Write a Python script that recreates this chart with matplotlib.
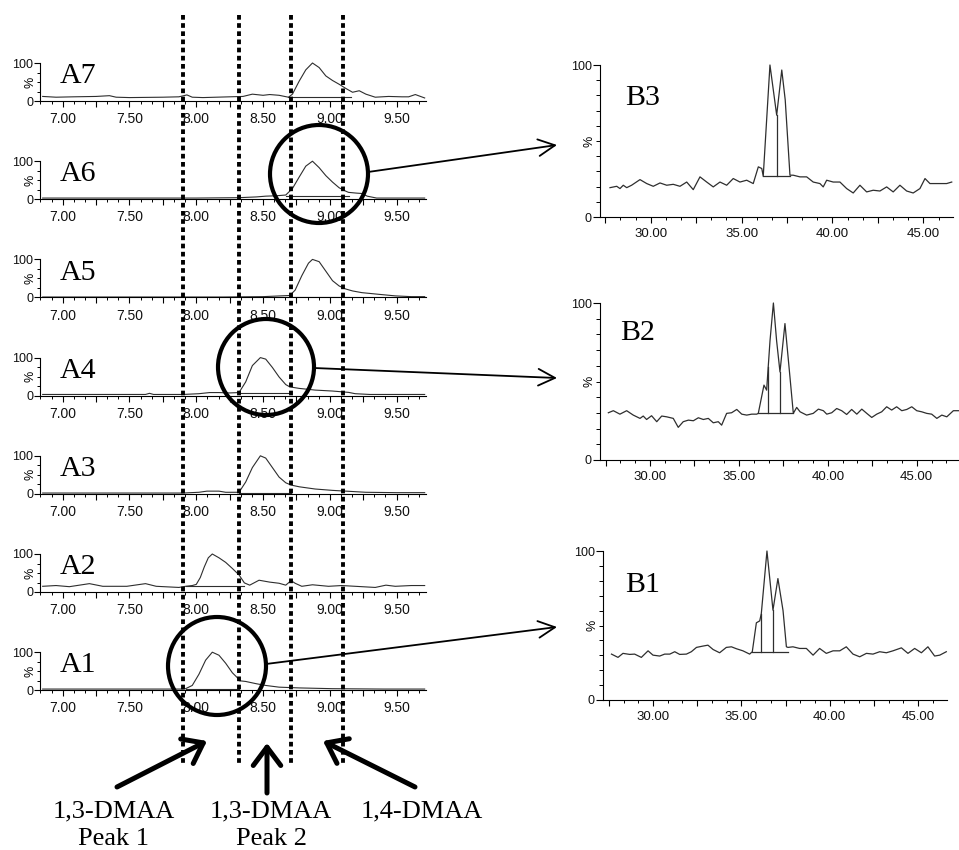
import numpy as np
import matplotlib
matplotlib.use('Agg')
import matplotlib.pyplot as plt
from matplotlib.ticker import MultipleLocator, FuncFormatter
from matplotlib.patches import Circle
from matplotlib.transforms import blended_transform_factory

plt.close('all')

# ---------------- data: retention time [min] / intensity [%] ----------------
a7_rt = [6.85, 6.95, 7.08, 7.25, 7.35, 7.40, 7.50, 7.75, 7.87, 7.93, 7.97, 8.05, 8.25, 8.35, 8.42,
         8.50, 8.55, 8.62, 8.69, 8.72, 8.77, 8.82, 8.87, 8.92, 8.97, 9.02, 9.07, 9.12, 9.17, 9.22,
         9.27, 9.34, 9.44, 9.54, 9.59, 9.64, 9.71]
a7_pct = [12, 10, 11, 12, 14, 10, 9, 10, 11, 16, 10, 9, 11, 12, 18,
          15, 17, 15, 10, 18, 52, 82, 100, 88, 66, 54, 44, 33, 23, 27,
          18, 10, 12, 11, 11, 17, 8]

a6_rt = [6.85, 7.20, 7.60, 8.00, 8.32, 8.45, 8.52, 8.60, 8.67, 8.72, 8.77, 8.82, 8.87, 8.92,
         8.97, 9.02, 9.07, 9.12, 9.14, 9.20, 9.24, 9.28, 9.35, 9.71]
a6_pct = [3, 3, 3, 3, 4, 6, 8, 9, 11, 28, 58, 87, 100, 83,
          62, 45, 30, 21, 18, 16, 15, 8, 3, 3]

a5_rt = [6.85, 7.50, 8.20, 8.50, 8.70, 8.74, 8.79, 8.84, 8.87, 8.92, 8.97, 9.02, 9.07, 9.12,
         9.17, 9.24, 9.37, 9.49, 9.61, 9.71]
a5_pct = [1, 1, 1, 2, 5, 19, 57, 90, 100, 94, 69, 44, 30, 22,
          17, 12.5, 8, 4, 2, 2]

a4_rt = [6.85, 7.40, 7.62, 7.65, 7.68, 7.90, 8.02, 8.10, 8.17, 8.25, 8.32, 8.37, 8.42, 8.48,
         8.52, 8.57, 8.62, 8.67, 8.70, 8.77, 8.89, 9.02, 9.14, 9.19, 9.30, 9.71]
a4_pct = [3, 3, 3, 6, 3, 3, 5, 8, 8, 7, 8, 36, 79, 100,
          96, 74, 49, 29, 23, 19, 14.5, 12, 8.5, 5, 3, 3]

a3_rt = [6.85, 7.90, 8.02, 8.08, 8.17, 8.22, 8.32, 8.37, 8.42, 8.48, 8.52, 8.57, 8.62, 8.67,
         8.71, 8.77, 8.89, 9.02, 9.27, 9.50, 9.71]
a3_pct = [2, 2, 4, 7, 7, 4, 4, 31, 69, 100, 94, 69, 44, 29,
          23, 18.5, 12.6, 9, 4, 3, 3]

a2_rt = [6.85, 6.95, 7.05, 7.20, 7.30, 7.48, 7.62, 7.70, 7.87, 7.92, 7.97, 8.00, 8.03, 8.06,
         8.09, 8.12, 8.17, 8.22, 8.27, 8.32, 8.36, 8.40, 8.47, 8.55, 8.62, 8.67, 8.71, 8.74,
         8.79, 8.87, 8.99, 9.09, 9.19, 9.34, 9.42, 9.49, 9.61, 9.71]
a2_pct = [15, 17, 14, 22, 15, 15, 22, 15, 12, 15, 17, 20, 38, 66,
          90, 100, 90, 78, 62, 45, 24, 18, 31, 26, 23, 18, 30, 23,
          15, 19, 15, 17, 15, 12, 18, 15, 17, 17]

a1_rt = [6.85, 7.50, 7.90, 7.92, 7.97, 8.02, 8.07, 8.12, 8.17, 8.22, 8.27, 8.31, 8.32, 8.37,
         8.45, 8.52, 8.62, 8.77, 9.02, 9.40, 9.71]
a1_pct = [3, 3, 3, 4, 12.5, 42, 79, 100, 92, 71, 46, 32, 25, 23,
          17, 12.5, 8, 6, 4, 3, 3]

a_names = ['A7', 'A6', 'A5', 'A4', 'A3', 'A2', 'A1']
a_traces = [(a7_rt, a7_pct), (a6_rt, a6_pct), (a5_rt, a5_pct), (a4_rt, a4_pct),
            (a3_rt, a3_pct), (a2_rt, a2_pct), (a1_rt, a1_pct)]
# integration baseline: start, end, level
a_integ = [(8.69, 9.16, 10), (8.67, 9.14, 9), (8.70, 9.14, 2), (8.32, 8.70, 6),
           (8.32, 8.71, 3), (7.92, 8.36, 16), (7.92, 8.32, 4)]

b3_rt = [27.76, 28.13, 28.31, 28.49, 28.68, 28.95, 29.41, 29.78, 30.14, 30.51, 30.88, 31.24,
         31.61, 31.98, 32.34, 32.71, 33.08, 33.44, 33.81, 34.18, 34.54, 34.91, 35.28, 35.64,
         35.92, 36.11, 36.19, 36.56, 36.93, 37.21, 37.40, 37.66, 37.84, 38.21, 38.58, 38.94,
         39.31, 39.49, 39.68, 40.04, 40.41, 40.78, 41.14, 41.51, 41.88, 42.24, 42.61, 42.98,
         43.34, 43.71, 44.08, 44.44, 44.81, 45.09, 45.36, 45.73, 46.28, 46.56]
b3_pct = [19.3, 20.2, 18.7, 20.9, 19.3, 20.9, 24.6, 22, 20.2, 22.4, 20.9, 21.5,
          20.2, 23, 18, 26.4, 23, 19.8, 23, 20.9, 25.3, 23, 24.2, 22,
          33, 31.9, 26.8, 100, 67, 96.7, 77, 27.5, 27.5, 26.4, 26.4, 23,
          22, 19.8, 24.2, 23, 23, 18.7, 15.8, 20.9, 16.5, 17.6, 17.1, 19.8,
          16.5, 20.9, 17.1, 15.8, 18.7, 25.3, 22, 22, 22, 23]

b2_rt = [27.66, 27.94, 28.31, 28.69, 29.06, 29.44, 29.62, 29.81, 30.09, 30.38, 30.66, 30.94,
         31.31, 31.59, 31.87, 32.16, 32.44, 32.72, 33.00, 33.28, 33.56, 33.84, 34.03, 34.31,
         34.59, 34.88, 35.16, 35.44, 35.72, 36.00, 36.09, 36.41, 36.56, 36.75, 36.94, 37.12,
         37.31, 37.59, 37.87, 38.06, 38.25, 38.44, 38.81, 39.18, 39.47, 39.75, 39.94, 40.22,
         40.50, 40.78, 41.06, 41.34, 41.63, 41.91, 42.19, 42.47, 42.75, 43.03, 43.31, 43.59,
         43.87, 44.16, 44.44, 44.72, 45.00, 45.28, 45.56, 45.84, 46.13, 46.41, 46.69, 47.06,
         47.34]
b2_pct = [30.1, 31.4, 29.2, 31.4, 28.6, 26.5, 28, 25.8, 28.2, 24.4, 28, 27.5,
          26.5, 20.8, 24.4, 25.4, 25, 26.9, 25.8, 26.5, 23.7, 24.4, 22.2, 29.7,
          30.1, 32.2, 29.2, 28.6, 29.2, 29.2, 29.7, 47.7, 44.5, 76, 100, 76,
          56.1, 86.9, 53, 29.7, 33.5, 30.7, 28.6, 29.7, 32.4, 31.4, 29.2, 30.1,
          32.8, 31.4, 29, 32.2, 29.2, 32.4, 29.7, 27.1, 29.2, 30.7, 33.9, 31.8,
          33.9, 31.4, 32.2, 33.9, 31.4, 30.7, 29.7, 29.2, 26.5, 28.6, 27.5, 31.4,
          31.4]

b1_rt = [27.65, 28.02, 28.30, 28.68, 28.96, 29.34, 29.72, 30.00, 30.38, 30.66, 30.95, 31.23,
         31.51, 31.89, 32.17, 32.46, 32.83, 33.11, 33.40, 33.77, 34.15, 34.44, 34.72, 35.09,
         35.47, 35.62, 35.85, 36.04, 36.13, 36.45, 36.79, 37.07, 37.36, 37.55, 37.64, 37.92,
         38.30, 38.68, 39.06, 39.43, 39.81, 40.19, 40.57, 40.94, 41.32, 41.70, 42.08, 42.45,
         42.83, 43.21, 43.58, 44.06, 44.43, 44.81, 45.19, 45.56, 45.94, 46.23, 46.60]
b1_pct = [30.8, 28.6, 31.3, 30.6, 30.8, 28.6, 33, 30.1, 29.5, 30.8, 30.8, 32.4,
          30.6, 30.8, 32.4, 35.3, 36.2, 36.8, 33.9, 31.7, 35.3, 35.7, 34.4, 33,
          30.8, 32.4, 51.8, 53.1, 58, 100, 60.3, 81.5, 60, 35.7, 35.3, 35.7,
          34.6, 34.6, 30.1, 34.6, 31.3, 33, 33, 35.7, 30.8, 29, 31.3, 30.8,
          32.4, 31.7, 33, 35, 31.3, 34.6, 31.7, 35.7, 29.5, 30.1, 32.4]

b_names = ['B3', 'B2', 'B1']
b_traces = [(b3_rt, b3_pct), (b2_rt, b2_pct), (b1_rt, b1_pct)]
b_integ = [(36.19, 37.66, 26.8), (36.09, 38.06, 29.7), (35.62, 37.64, 32.4)]
b_drops = [[36.93], [36.65, 37.31], [36.13, 36.79]]
b_xlims = [(27.21, 46.63), (27.19, 47.32), (27.17, 46.64)]

divider_rt = [7.90, 8.32, 8.71, 9.10]
isomer_names = ['1,3-DMAA', '1,3-DMAA', '1,4-DMAA']
peak_names = ['Peak 1', 'Peak 2', '']

# ---------------- layout helpers (pixel based) ----------------
W, H = 959, 850
SERIF = 'Liberation Serif'
SANS = 'Liberation Sans'
line_col = '#2e2e2e'


def px_box(left, top, right, bottom):
    return [left / W, 1 - bottom / H, (right - left) / W, (bottom - top) / H]


def label_every(step):
    def f(v, pos):
        if abs(v / step - round(v / step)) < 1e-6:
            return '%.2f' % v
        return ''
    return FuncFormatter(f)


def style_axes(ax, xmaj, xmin, xlab_step, xsize, ymin_step, ylen):
    for s in ['top', 'right']:
        ax.spines[s].set_visible(False)
    for s in ['left', 'bottom']:
        ax.spines[s].set_linewidth(0.8)
    ax.set_ylim(0, 100)
    ax.set_yticks([0, 100])
    ax.set_yticklabels(['0', '100'], fontfamily=SANS)
    ax.yaxis.set_minor_locator(MultipleLocator(ymin_step))
    ax.xaxis.set_major_locator(MultipleLocator(xmaj))
    ax.xaxis.set_minor_locator(MultipleLocator(xmin))
    ax.xaxis.set_major_formatter(label_every(xlab_step))
    ax.tick_params(axis='x', which='major', direction='out', length=4, width=0.8,
                   pad=4, labelsize=xsize, labelcolor='#111111')
    ax.tick_params(axis='x', which='minor', direction='out', length=2.5, width=0.7)
    ax.tick_params(axis='y', which='major', direction='out', length=ylen, width=0.8,
                   pad=1, labelsize=9, labelcolor='#111111')
    ax.tick_params(axis='y', which='minor', direction='out', length=ylen * 0.6, width=0.7)
    for t in ax.get_xticklabels():
        t.set_fontfamily(SANS)
    ax.patch.set_alpha(0)


fig = plt.figure(figsize=(W / 100, H / 100), dpi=100)

# ---------------- A panels ----------------
a_axes = []
for k in range(len(a_names)):
    top = 63 + 98.2 * k
    ax = fig.add_axes(px_box(40, top, 426, top + 38))
    rt, pct = a_traces[k]
    ax.plot(rt, pct, color=line_col, lw=0.8, clip_on=False)
    b0, b1, lev = a_integ[k]
    ax.plot([b0, b1], [lev, lev], color=line_col, lw=0.8)
    ax.set_xlim(6.83, 9.72)
    style_axes(ax, 0.25, 1 / 12, 0.5, 10, 25, 4)
    ax.text(-0.025, 0.5, '%', transform=ax.transAxes, rotation=90, ha='center', va='center',
            fontsize=9, fontfamily=SANS)
    ax.text(0.052, 0.47, a_names[k], transform=ax.transAxes, ha='left', va='baseline',
            fontsize=21.5, fontfamily=SERIF)
    a_axes.append(ax)

# ---------------- B panels ----------------
b_boxes = [(600, 65, 953, 217), (600, 303, 958, 460), (603, 551, 947, 700)]
b_lab_pos = [(0.071, 0.737), (0.056, 0.764), (0.064, 0.725)]
for k in range(len(b_names)):
    ax = fig.add_axes(px_box(*b_boxes[k]))
    rt, pct = b_traces[k]
    ax.plot(rt, pct, color=line_col, lw=0.9, clip_on=False)
    s, e, lev = b_integ[k]
    ax.plot([s, e], [lev, lev], color=line_col, lw=0.9)
    for d in b_drops[k]:
        ax.plot([d, d], [lev, np.interp(d, rt, pct)], color=line_col, lw=0.9)
    ax.set_xlim(*b_xlims[k])
    style_axes(ax, 2.5, 5 / 6, 5, 9.5, 10, 5)
    ax.text(-0.03, 0.5, '%', transform=ax.transAxes, rotation=90, ha='center', va='center',
            fontsize=9, fontfamily=SANS)
    ax.text(b_lab_pos[k][0], b_lab_pos[k][1], b_names[k], transform=ax.transAxes,
            ha='left', va='baseline', fontsize=21.5, fontfamily=SERIF)

# ---------------- overlay: dividers, circles, arrows, labels ----------------
ov = fig.add_axes([0, 0, 1, 1], zorder=10)
ov.set_xlim(0, W)
ov.set_ylim(H, 0)
ov.set_autoscale_on(False)
ov.axis('off')

trans = blended_transform_factory(a_axes[0].transData, ov.transData)
for rt in divider_rt:
    ov.plot([rt, rt], [15, 765], transform=trans, color='k', lw=2.8,
            linestyle=(0, (1.2, 0.9)), dash_capstyle='butt')

# circles around the peaks and the connectors to the B panels
circles = [((319, 174), 49), ((266, 367), 48), ((217, 666), 49)]
connectors = [((368, 172), (557, 145)), ((314, 368), (557, 378)), ((266, 664), (557, 627))]
for (c, r), (p0, p1) in zip(circles, connectors):
    ov.add_patch(Circle(c, r, fill=False, lw=3, ec='k'))
    ov.annotate('', xy=p1, xytext=p0,
                arrowprops=dict(arrowstyle='->,head_length=0.6,head_width=0.3', lw=1.3,
                                color='k', shrinkA=0, shrinkB=0, mutation_scale=20))

# big arrows + isomer labels at the bottom
big_arrows = [((117, 787), (207, 741)), ((267, 793), (267, 743)), ((415, 787), (323, 741))]
label_x = [114, 271, 422]
for (p0, p1), x, n1, n2 in zip(big_arrows, label_x, isomer_names, peak_names):
    ov.annotate('', xy=p1, xytext=p0,
                arrowprops=dict(arrowstyle='->,head_length=0.4,head_width=0.3', lw=3.6,
                                color='k', shrinkA=0, shrinkB=0, mutation_scale=33))
    ov.text(x, 817, n1, ha='center', va='baseline', fontsize=19, fontfamily=SERIF)
    if n2:
        ov.text(x, 845, n2, ha='center', va='baseline', fontsize=19, fontfamily=SERIF)

fig.savefig('out.png', dpi=100)
